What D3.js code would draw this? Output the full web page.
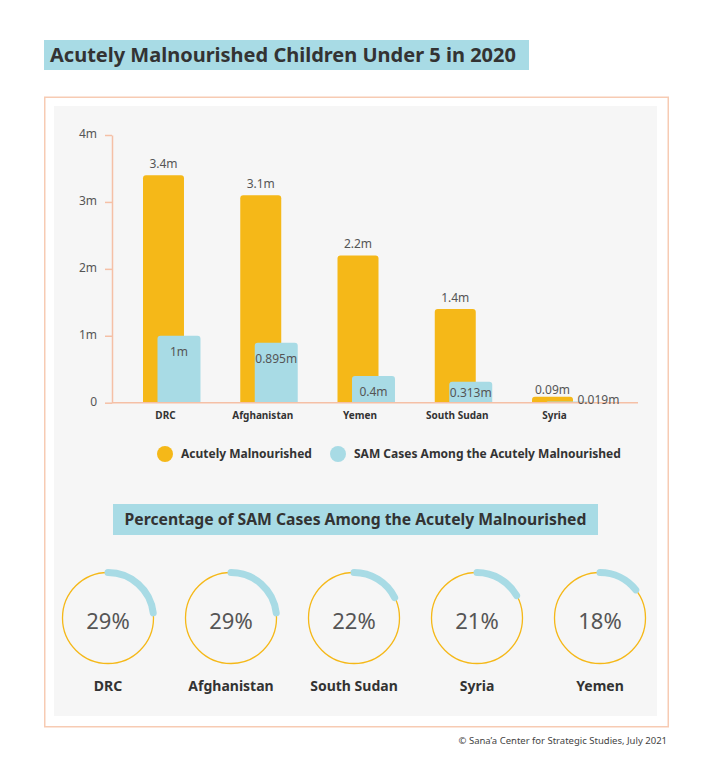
<!DOCTYPE html>
<html>
<head>
<meta charset="utf-8">
<script src="https://cdn.jsdelivr.net/npm/d3@7"></script>
<style>
  html, body { margin: 0; padding: 0; background: #ffffff; }
  svg { display: block; font-family: "Noto Sans", "Open Sans", sans-serif; }
</style>
</head>
<body>
<div id="chart"></div>
<script>
// ---------- DATA ----------
const categories = ["DRC", "Afghanistan", "Yemen", "South Sudan", "Syria"];
const acutelyValues = [3.4, 3.1, 2.2, 1.4, 0.09];
const samValues = [1, 0.895, 0.4, 0.313, 0.019];
const acutelyLabels = ["3.4m", "3.1m", "2.2m", "1.4m", "0.09m"];
const samLabels = ["1m", "0.895m", "0.4m", "0.313m", "0.019m"];
const yTickValues = [0, 1, 2, 3, 4];
const yTickLabels = ["0", "1m", "2m", "3m", "4m"];
const seriesNames = ["Acutely Malnourished", "SAM Cases Among the Acutely Malnourished"];
const pctCountries = ["DRC", "Afghanistan", "South Sudan", "Syria", "Yemen"];
const pctValues = [29, 29, 22, 21, 18];
const pctLabels = ["29%", "29%", "22%", "21%", "18%"];
const title = "Acutely Malnourished Children Under 5 in 2020";
const subtitle = "Percentage of SAM Cases Among the Acutely Malnourished";
const footer = "\u00A9 Sana\u2019a Center for Strategic Studies, July 2021";

// ---------- STYLE ----------
const W = 713, H = 762;
const YELLOW = "#f5b818";
const BLUE = "#a8dbe5";
const AXIS = "#f5c0a6";
const DARK = "#333333";
const MID = "#555555";

const svg = d3.select("#chart").append("svg")
  .attr("width", W).attr("height", H);

svg.append("rect").attr("width", W).attr("height", H).attr("fill", "#ffffff");

// Title box
svg.append("rect").attr("x", 44).attr("y", 40).attr("width", 485).attr("height", 30).attr("fill", BLUE);
svg.append("text").attr("x", 50).attr("y", 62)
  .attr("font-size", 20).attr("font-weight", 700).attr("fill", DARK)
  .text(title);

// Frame & panel
svg.append("rect").attr("x", 44.75).attr("y", 97.25).attr("width", 623.5).attr("height", 629.5)
  .attr("fill", "#ffffff").attr("stroke", "#f7cbb3").attr("stroke-width", 1.5);
svg.append("rect").attr("x", 54).attr("y", 106).attr("width", 603).attr("height", 610).attr("fill", "#f6f6f6");

// ---------- BAR CHART ----------
const y = d3.scaleLinear().domain([0, 4]).range([402.7, 135]);
const x = d3.scaleBand().domain(categories).range([143, 589.5]).paddingInner(0.409).paddingOuter(0);
const bw = x.bandwidth();
const yellowW = bw * 41 / 57.5;
const blueOff = bw * 14.5 / 57.5;
const blueW = bw * 43 / 57.5;

// y axis
const yAxis = d3.axisLeft(y).tickValues(yTickValues)
  .tickFormat((d, i) => yTickLabels[i]).tickSize(7).tickSizeOuter(0).tickPadding(8);
const gy = svg.append("g").attr("transform", "translate(112,0)").call(yAxis);
gy.select(".domain").attr("stroke", AXIS).attr("stroke-width", 1.5);
gy.selectAll(".tick line").attr("stroke", AXIS).attr("stroke-width", 1.5);
gy.selectAll(".tick text").attr("fill", MID).attr("font-size", 12)
  .attr("font-family", "'Noto Sans', sans-serif").attr("dy", "0.2em");

// Bars
function roundTopRect(x0, y0, w, h, r) {
  r = Math.min(r, h, w / 2);
  const p = d3.path();
  p.moveTo(x0, y0 + h);
  p.lineTo(x0, y0 + r);
  p.arcTo(x0, y0, x0 + r, y0, r);
  p.lineTo(x0 + w - r, y0);
  p.arcTo(x0 + w, y0, x0 + w, y0 + r, r);
  p.lineTo(x0 + w, y0 + h);
  p.closePath();
  return p.toString();
}

const rows = categories.map((c, i) => ({ c, a: acutelyValues[i], s: samValues[i], al: acutelyLabels[i], sl: samLabels[i] }));

svg.append("g").selectAll("path").data(rows).join("path")
  .attr("d", d => roundTopRect(x(d.c), y(d.a), yellowW, y(0) - y(d.a), 3))
  .attr("fill", YELLOW);

svg.append("g").selectAll("path").data(rows).join("path")
  .attr("d", d => roundTopRect(x(d.c) + blueOff, y(d.s), blueW, y(0) - y(d.s), 3))
  .attr("fill", BLUE);

// x baseline
svg.append("line").attr("x1", 112).attr("x2", 638).attr("y1", y(0)).attr("y2", y(0))
  .attr("stroke", AXIS).attr("stroke-width", 1.5);

// Value labels
svg.append("g").selectAll("text").data(rows).join("text")
  .attr("x", d => x(d.c) + yellowW / 2)
  .attr("y", d => y(d.a) - (y(0) - y(d.a) < 20 ? 3 : 7))
  .attr("text-anchor", "middle").attr("font-size", 12).attr("fill", MID)
  .text(d => d.al);

svg.append("g").selectAll("text").data(rows).join("text")
  .attr("x", d => (y(0) - y(d.s) < 20) ? x(d.c) + blueOff + blueW - 12 : x(d.c) + blueOff + blueW / 2)
  .attr("y", d => (y(0) - y(d.s) < 20) ? y(0) + 1 : Math.min(y(d.s) + 20, y(0) - 6))
  .attr("text-anchor", d => (y(0) - y(d.s) < 20) ? "start" : "middle")
  .attr("font-size", 12).attr("fill", MID)
  .text(d => d.sl);

// Category labels
svg.append("g").selectAll("text").data(categories).join("text")
  .attr("x", d => x(d) + yellowW / 2 + 2)
  .attr("y", 419)
  .attr("text-anchor", "middle").attr("font-size", 10).attr("font-weight", 700).attr("fill", DARK)
  .text(d => d);

// Legend
const legendX = [165, 338];
const legendColors = [YELLOW, BLUE];
seriesNames.forEach((name, i) => {
  svg.append("circle").attr("cx", legendX[i]).attr("cy", 454).attr("r", 8).attr("fill", legendColors[i]);
  svg.append("text").attr("x", legendX[i] + 16).attr("y", 458)
    .attr("font-size", 12).attr("font-weight", 700).attr("fill", DARK).text(name);
});

// ---------- SUBTITLE ----------
svg.append("rect").attr("x", 113).attr("y", 504).attr("width", 485).attr("height", 31).attr("fill", BLUE);
svg.append("text").attr("x", 355.5).attr("y", 525).attr("text-anchor", "middle")
  .attr("font-size", 15.7).attr("font-weight", 700).attr("fill", DARK).text(subtitle);

// ---------- DONUTS ----------
const px = d3.scalePoint().domain(pctCountries).range([108, 600]);
const cy = 618, R = 45.5;
const angle = d3.scaleLinear().domain([0, 100]).range([0, 2 * Math.PI * 0.8]);

const donuts = svg.append("g").selectAll("g").data(pctCountries.map((c, i) => ({ c, v: pctValues[i], l: pctLabels[i] })))
  .join("g").attr("transform", d => `translate(${px(d.c)},${cy})`);

donuts.append("circle").attr("r", R).attr("fill", "none").attr("stroke", YELLOW).attr("stroke-width", 1.3);
donuts.append("path")
  .attr("d", d => { const p = d3.path(); p.arc(0, 0, R, -Math.PI / 2, -Math.PI / 2 + angle(d.v)); return p.toString(); })
  .attr("fill", "none").attr("stroke", BLUE).attr("stroke-width", 7).attr("stroke-linecap", "round");
donuts.append("text").attr("y", 11).attr("text-anchor", "middle")
  .attr("font-size", 22).attr("fill", MID).text(d => d.l);
donuts.append("text").attr("y", 73).attr("text-anchor", "middle")
  .attr("font-size", 14).attr("font-weight", 700).attr("fill", DARK).text(d => d.c);

// Footer
svg.append("text").attr("x", 667).attr("y", 744).attr("text-anchor", "end")
  .attr("font-size", 9.5).attr("fill", "#444").text(footer);
</script>
</body>
</html>
